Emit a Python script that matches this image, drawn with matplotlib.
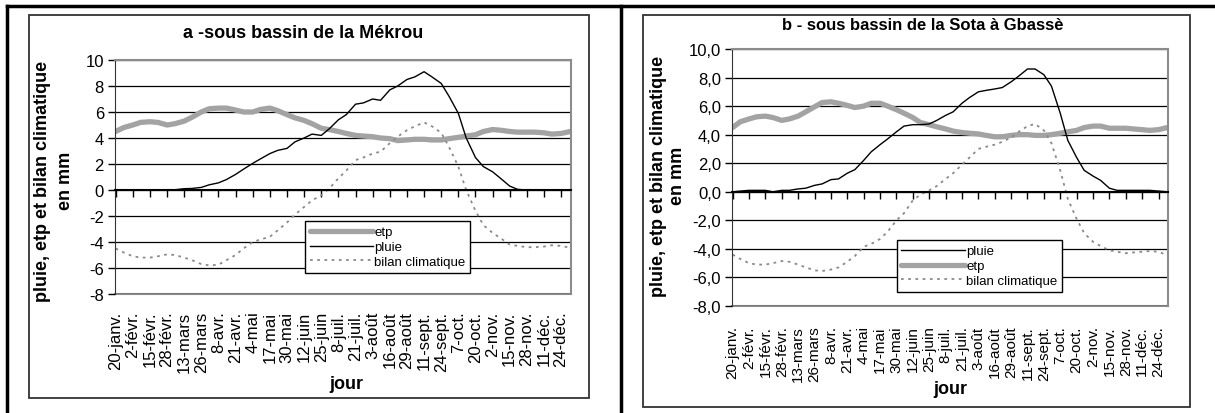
import matplotlib
matplotlib.use("Agg")
import matplotlib.pyplot as plt
from matplotlib.lines import Line2D
from matplotlib.patches import Rectangle

plt.rcParams['font.family'] = ['Liberation Sans', 'DejaVu Sans']
plt.rcParams['axes.unicode_minus'] = False

# day of year for each sampled value
days = [20, 26, 33, 39, 46, 52, 59, 65, 72, 78, 85, 91, 98, 104, 111, 117, 124, 130,
        137, 143, 150, 156, 163, 169, 176, 182, 189, 195, 202, 208, 215, 221, 228, 234,
        241, 247, 254, 260, 267, 273, 280, 286, 293, 299, 306, 312, 319, 325, 332, 338,
        345, 351, 358, 365]

# a - sous bassin de la Mekrou
etp_a = [4.5, 4.8, 5.0, 5.2, 5.25, 5.2, 5.0, 5.1, 5.3, 5.6, 6.0, 6.25, 6.3, 6.3, 6.15, 6.0,
         6.0, 6.2, 6.3, 6.1, 5.8, 5.55, 5.35, 5.1, 4.75, 4.65, 4.5, 4.35, 4.2, 4.15, 4.1,
         4.0, 3.95, 3.8, 3.85, 3.9, 3.9, 3.85, 3.85, 3.95, 4.05, 4.15, 4.25, 4.5, 4.65,
         4.6, 4.5, 4.45, 4.45, 4.45, 4.4, 4.3, 4.35, 4.5]
pluie_a = [0, 0, 0, 0, 0, 0, 0, 0.02, 0.1, 0.12, 0.2, 0.4, 0.55, 0.8, 1.2, 1.6, 2.05, 2.4,
           2.8, 3.05, 3.2, 3.7, 4.0, 4.3, 4.2, 4.7, 5.4, 5.8, 6.6, 6.7, 7.0, 6.9, 7.7, 8.0,
           8.5, 8.7, 9.1, 8.7, 8.2, 7.2, 5.9, 4.0, 2.5, 1.8, 1.4, 0.9, 0.3, 0.05, 0, 0,
           0, 0, 0, 0]
bilan_a = [-4.5, -4.8, -5.1, -5.2, -5.2, -5.1, -4.95, -5.0, -5.2, -5.4, -5.7, -5.8, -5.75,
           -5.4, -5.0, -4.5, -4.0, -3.8, -3.6, -3.1, -2.5, -1.9, -1.3, -0.8, -0.4, 0.1,
           0.9, 1.5, 2.3, 2.5, 2.8, 2.95, 3.6, 4.1, 4.6, 4.9, 5.2, 4.9, 4.4, 3.3, 1.8,
           0.0, -1.6, -2.7, -3.3, -3.7, -4.2, -4.3, -4.4, -4.4, -4.35, -4.25, -4.3, -4.45]

# b - sous bassin de la Sota a Gbasse
etp_b = [4.5, 4.9, 5.1, 5.25, 5.3, 5.2, 5.0, 5.1, 5.3, 5.6, 5.95, 6.25, 6.3, 6.2, 6.05,
         5.9, 6.0, 6.2, 6.2, 6.0, 5.75, 5.5, 5.2, 4.85, 4.7, 4.55, 4.4, 4.25, 4.15, 4.1,
         4.05, 3.95, 3.85, 3.85, 3.95, 4.0, 4.0, 3.95, 3.95, 4.0, 4.1, 4.2, 4.3, 4.5,
         4.6, 4.6, 4.45, 4.45, 4.45, 4.4, 4.35, 4.3, 4.35, 4.5]
pluie_b = [0.0, 0.05, 0.1, 0.1, 0.1, 0.0, 0.1, 0.1, 0.2, 0.25, 0.45, 0.55, 0.85, 0.9, 1.3,
           1.55, 2.2, 2.8, 3.3, 3.7, 4.2, 4.6, 4.7, 4.7, 4.75, 5.0, 5.35, 5.6, 6.2, 6.6,
           7.0, 7.1, 7.2, 7.3, 7.7, 8.1, 8.6, 8.6, 8.2, 7.4, 5.5, 3.6, 2.4, 1.5, 1.1, 0.8,
           0.25, 0.1, 0.1, 0.1, 0.1, 0.1, 0.05, 0.0]
bilan_b = [-4.4, -4.7, -5.0, -5.1, -5.1, -5.0, -4.85, -4.9, -5.1, -5.3, -5.5, -5.55, -5.45,
           -5.3, -4.9, -4.5, -3.85, -3.65, -3.3, -2.8, -2.0, -1.5, -0.6, -0.2, 0.1, 0.4,
           0.9, 1.3, 1.9, 2.4, 3.0, 3.15, 3.3, 3.5, 3.8, 4.2, 4.6, 4.75, 4.3, 3.4, 1.5,
           -0.5, -1.9, -2.9, -3.5, -3.8, -4.1, -4.2, -4.3, -4.25, -4.2, -4.15, -4.2, -4.45]

tick_days = [20, 33, 46, 59, 72, 85, 98, 111, 124, 137, 150, 163, 176, 189, 202, 215,
             228, 241, 254, 267, 280, 293, 306, 319, 332, 345, 358]
tick_labels = ["20-janv.", "2-févr.", "15-févr.", "28-févr.", "13-mars", "26-mars",
               "8-avr.", "21-avr.", "4-mai", "17-mai", "30-mai", "12-juin", "25-juin",
               "8-juil.", "21-juil.", "3-août", "16-août", "29-août", "11-sept.",
               "24-sept.", "7-oct.", "20-oct.", "2-nov.", "15-nov.", "28-nov.",
               "11-déc.", "24-déc."]

W, H = 1215, 414
fig = plt.figure(figsize=(W / 100, H / 100), dpi=100)


def px(x0, y0, x1, y1):
    return [x0 / W, 1 - y1 / H, (x1 - x0) / W, (y1 - y0) / H]


def panel(rect, etp, pluie, bilan, decimals, order, leg_anchor, xfs, xpad):
    ax = fig.add_axes(rect)
    l_etp, = ax.plot(days, etp, color='#a3a3a3', lw=3.8, solid_capstyle='round')
    l_pl, = ax.plot(days, pluie, color='black', lw=1.0)
    l_bi, = ax.plot(days, bilan, color='#8a8a8a', lw=1.3, linestyle=(0, (1.5, 2.5)))
    ax.set_xlim(19.5, 365.5)
    ax.set_ylim(-8, 10)
    yt = list(range(-8, 11, 2))
    ax.set_yticks(yt)
    if decimals:
        ax.set_yticklabels([f"{v:.1f}".replace('.', ',') for v in yt])
    ax.tick_params(axis='y', direction='out', length=5, width=1, labelsize=12, pad=3)
    ax.yaxis.grid(True, color='black', lw=0.9)
    ax.set_axisbelow(True)
    for s in ('top', 'right'):
        ax.spines[s].set_color('#8c8c8c')
        ax.spines[s].set_linewidth(1.5)
    ax.spines['left'].set_color('#333333')
    ax.spines['bottom'].set_position(('data', 0))
    ax.spines['bottom'].set_linewidth(1.5)
    ax.set_xticks(tick_days)
    ax.tick_params(axis='x', direction='out', length=5, width=1, labelbottom=False)
    sec = ax.secondary_xaxis('bottom')
    sec.set_xticks(tick_days)
    sec.set_xticklabels(tick_labels, rotation=90, fontsize=xfs, va='top')
    sec.tick_params(length=0, pad=xpad)
    sec.spines['bottom'].set_color('#8c8c8c')
    sec.spines['bottom'].set_linewidth(1.5)
    handles = {'etp': l_etp, 'pluie': l_pl, 'bilan climatique': l_bi}
    ax.legend([handles[k] for k in order], order, loc='upper left',
              bbox_to_anchor=leg_anchor, fontsize=9.5, frameon=True, fancybox=False,
              edgecolor='black', framealpha=1, handlelength=4.8, handletextpad=0.1,
              borderpad=0.35, labelspacing=0.2, borderaxespad=0)
    return ax


ax_a = panel(px(115, 61, 571, 295), etp_a, pluie_a, bilan_a, False,
             ['etp', 'pluie', 'bilan climatique'], (0.417, 0.31), 12, 12)
ax_b = panel(px(732, 50, 1168, 307), etp_b, pluie_b, bilan_b, True,
             ['pluie', 'etp', 'bilan climatique'], (0.378, 0.255), 11, 14)

# chart frames
fig.add_artist(Rectangle((29 / W, 1 - 399 / H), 560 / W, 383 / H, transform=fig.transFigure,
                         fill=False, edgecolor='#333333', lw=1.3))
fig.add_artist(Rectangle((643 / W, 1 - 408 / H), 547 / W, 392 / H, transform=fig.transFigure,
                         fill=False, edgecolor='#333333', lw=1.3))
# table borders
for xs, ys in [((7, 1215), (7, 7)), ((7, 7), (7, 414)), ((621, 621), (7, 414))]:
    fig.add_artist(Line2D([x / W for x in xs], [1 - y / H for y in ys],
                          transform=fig.transFigure, color='black', lw=2.5))

fig.text(303 / W, 1 - 33 / H, "a -sous bassin de la Mékrou", ha='center', va='center',
         fontsize=13, fontweight='bold')
fig.text(923 / W, 1 - 25 / H, "b - sous bassin de la Sota à Gbassè", ha='center',
         va='center', fontsize=12, fontweight='bold')
fig.text(54 / W, 1 - 181 / H, "pluie, etp et bilan climatique\nen mm", rotation=90,
         ha='center', va='center', ma='center', fontsize=13, fontweight='bold',
         linespacing=1.5)
fig.text(668 / W, 1 - 176 / H, "pluie, etp et bilan climatique\nen mm", rotation=90,
         ha='center', va='center', ma='center', fontsize=13, fontweight='bold',
         linespacing=1.2)
fig.text(346 / W, 1 - 385 / H, "jour", ha='center', va='center', fontsize=13,
         fontweight='bold')
fig.text(950 / W, 1 - 390 / H, "jour", ha='center', va='center', fontsize=13,
         fontweight='bold')

fig.savefig("out.png", dpi=100)
